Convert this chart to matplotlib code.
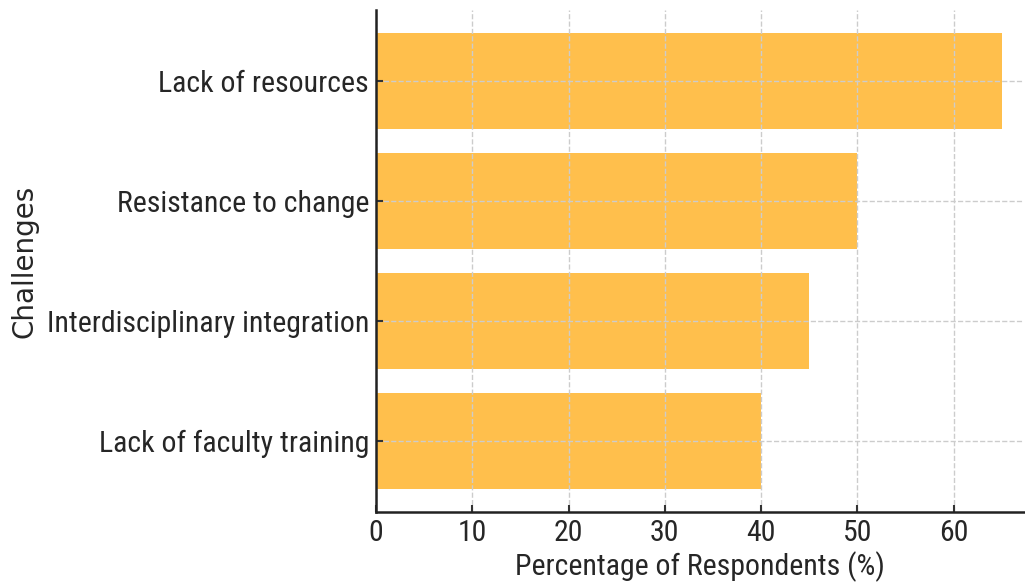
import matplotlib
matplotlib.use("Agg")
import matplotlib.pyplot as plt
from matplotlib import font_manager

challenges = [
    "Lack of faculty training",
    "Interdisciplinary integration",
    "Resistance to change",
    "Lack of resources",
]
percentages = [40, 45, 50, 65]
x_ticks = [0, 10, 20, 30, 40, 50, 60]

# pick a narrow face if one is installed
available = {f.name for f in font_manager.fontManager.ttflist}
family = "DejaVu Sans"
for name in ["DejaVu Sans Condensed", "Roboto Condensed", "Liberation Sans Narrow"]:
    if name in available:
        family = name
        break

plt.rcParams["font.family"] = family
TEXT = "#262626"
SIZE = 21.5

fig = plt.figure(figsize=(10.25, 5.84), dpi=100)
ax = fig.add_axes([376 / 1025, 1 - 512 / 584, (1024 - 376) / 1025, (512 - 10) / 584])

ax.barh(challenges, percentages, height=0.8, color="orange", alpha=0.7, zorder=1)

ax.set_xlim(0, 67.3)
ax.set_xticks(x_ticks)
ax.grid(True, linestyle="--", color="#cccccc", linewidth=1.0, zorder=2)
ax.set_axisbelow(False)

ax.tick_params(direction="in", length=5, width=1.5, color="#333333",
               labelsize=SIZE, labelcolor=TEXT, pad=5)
ax.set_xlabel("Percentage of Respondents (%)", fontsize=SIZE, color=TEXT, labelpad=3)
ax.set_ylabel("Challenges", fontsize=20, color=TEXT, family="DejaVu Sans", labelpad=6)

for side in ["top", "right"]:
    ax.spines[side].set_visible(False)
for side in ["left", "bottom"]:
    ax.spines[side].set_linewidth(1.8)
    ax.spines[side].set_color("#222222")
    ax.spines[side].set_zorder(5)

fig.savefig("out.png", dpi=100)
